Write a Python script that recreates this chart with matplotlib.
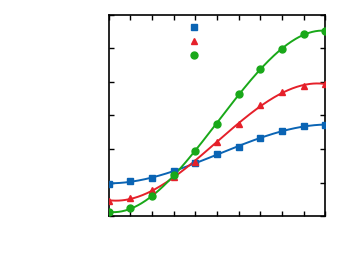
import numpy as np
import matplotlib
matplotlib.use("Agg")
import matplotlib.pyplot as plt

x = [0, 1, 2, 3, 4, 5, 6, 7, 8, 9, 10]
carres = [0.97, 1.04, 1.14, 1.35, 1.58, 1.84, 2.06, 2.34, 2.54, 2.68, 2.72]
triangles = [0.44, 0.55, 0.79, 1.17, 1.61, 2.20, 2.74, 3.31, 3.71, 3.89, 3.93]
cercles = [0.11, 0.24, 0.61, 1.22, 1.93, 2.76, 3.63, 4.39, 4.98, 5.42, 5.52]

bleu = "#0a64b4"
rouge = "#e5202a"
vert = "#19a819"

fig = plt.figure(figsize=(3.5, 2.61), dpi=100)
ax = fig.add_axes([0.311, 0.172, 0.618, 0.771])

xf = np.linspace(0, 10, 200)
series = [(carres, bleu, "s", 5.0), (triangles, rouge, "^", 4.2), (cercles, vert, "o", 5.0)]
handles = []
for y, c, m, ms in series:
    # courbe lissee (ajustement polynomial)
    p = np.polyfit(x, y, 3)
    ax.plot(xf, np.polyval(p, xf), color=c, lw=1.4, zorder=2)
    h, = ax.plot(x, y, linestyle="none", marker=m, color=c, markersize=ms, zorder=3)
    handles.append(h)

ax.legend(handles, [" ", " ", " "], loc="upper left", bbox_to_anchor=(0.366, 0.97),
          frameon=False, borderpad=0, borderaxespad=0, handlelength=1.0,
          handletextpad=0.2, labelspacing=0.1, numpoints=1, fontsize=9)

ax.set_xlim(0, 10)
ax.set_ylim(0, 6)
ax.set_xticks(range(11))
ax.set_yticks(range(7))
ax.tick_params(direction="in", top=True, right=True, length=3.5, width=1.0,
               labelbottom=False, labelleft=False)
for s in ax.spines.values():
    s.set_linewidth(1.2)

fig.savefig("out.png", dpi=100)
